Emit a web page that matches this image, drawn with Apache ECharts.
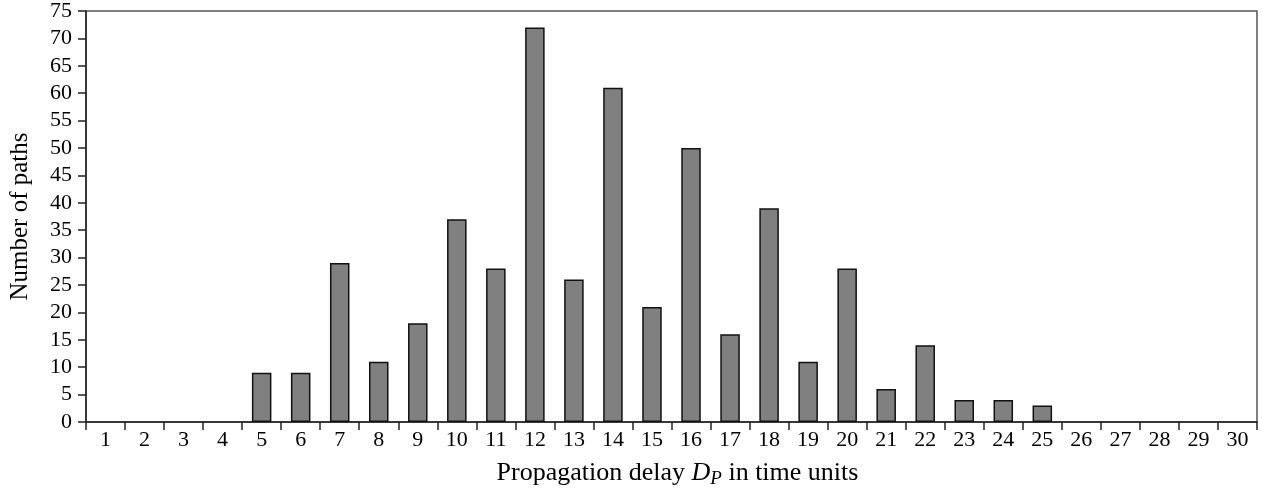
<!DOCTYPE html>
<html>
<head>
<meta charset="utf-8">
<script src="https://cdn.jsdelivr.net/npm/echarts@6/dist/echarts.min.js"></script>
<style>html,body{margin:0;padding:0;background:#fff;}#c{width:1262px;height:490px;}</style>
</head>
<body>
<div id="c"></div>
<script>
const categories = ['1','2','3','4','5','6','7','8','9','10','11','12','13','14','15','16','17','18','19','20','21','22','23','24','25','26','27','28','29','30'];
const paths = [0,0,0,0,9,9,29,11,18,37,28,72,26,61,21,50,16,39,11,28,6,14,4,4,3,0,0,0,0,0];
const yMin = 0, yMax = 75, yStep = 5;

const FONT = '"Liberation Serif", "DejaVu Serif", serif';
const chart = echarts.init(document.getElementById('c'), null, {renderer: 'canvas'});
chart.setOption({
  animation: false,
  backgroundColor: '#fff',
  grid: {left: 86, right: 5, top: 11, bottom: 68, outerBoundsMode: 'none', containLabel: false, show: true, borderColor: '#555', borderWidth: 1.5, backgroundColor: 'transparent'},
  xAxis: {
    type: 'category',
    data: categories,
    boundaryGap: true,
    axisLine: {lineStyle: {color: '#222', width: 1.5}},
    axisTick: {show: true, length: 8, alignWithLabel: false, lineStyle: {color: '#222', width: 1.5}},
    axisLabel: {color: '#000', fontFamily: FONT, fontSize: 22, margin: 7, interval: 0},
    name: '{a|Propagation delay }{i|D}{s|P}{a| in time units}',
    nameLocation: 'middle',
    nameGap: 37,
    nameTextStyle: {
      fontFamily: FONT, fontSize: 26, color: '#000',
      padding: [0, 0, 0, 12],
      rich: {
        a: {fontFamily: FONT, fontSize: 26, color: '#000'},
        i: {fontFamily: FONT, fontSize: 26, fontStyle: 'italic', color: '#000'},
        s: {fontFamily: FONT, fontSize: 19, fontStyle: 'italic', color: '#000', padding: [10, 0, 0, 0]}
      }
    }
  },
  yAxis: {
    type: 'value',
    min: yMin, max: yMax, interval: yStep,
    splitLine: {show: false},
    axisLine: {show: true, lineStyle: {color: '#222', width: 1.5}},
    axisTick: {show: true, length: 8, lineStyle: {color: '#222', width: 1.5}},
    axisLabel: {color: '#000', fontFamily: FONT, fontSize: 22, margin: 14},
    name: 'Number of paths',
    nameLocation: 'middle',
    nameGap: 53,
    nameTextStyle: {fontFamily: FONT, fontSize: 25, color: '#000'}
  },
  series: [{
    type: 'bar',
    data: paths.map(v => v === 0 ? {value: v, itemStyle: {borderWidth: 0}} : v),
    barWidth: '50%',
    itemStyle: {color: '#808080', borderColor: '#111', borderWidth: 1.5}
  }]
});
</script>
</body>
</html>
